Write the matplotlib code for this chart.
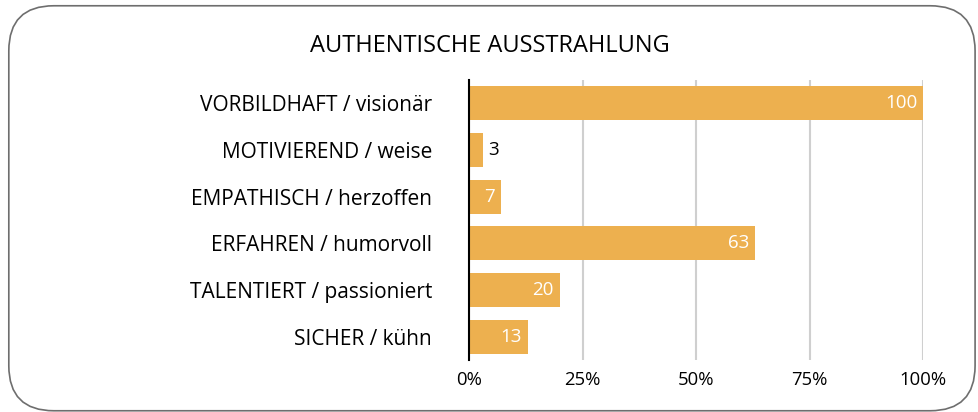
import matplotlib.pyplot as plt
from matplotlib.patches import FancyBboxPatch

plt.rcParams['font.family'] = ['Open Sans', 'DejaVu Sans']

categories = ['VORBILDHAFT / visionär', 'MOTIVIEREND / weise', 'EMPATHISCH / herzoffen',
              'ERFAHREN / humorvoll', 'TALENTIERT / passioniert', 'SICHER / kühn']
values = [100, 3, 7, 63, 20, 13]
xticks = [0, 25, 50, 75, 100]
xtick_labels = ['0%', '25%', '50%', '75%', '100%']

bar_color = '#EDB04F'

fig = plt.figure(figsize=(9.79, 4.12), dpi=100)

# rounded frame around the chart
frame = FancyBboxPatch((0.009, 0.003), 0.987, 0.983,
                       boxstyle='round,pad=0,rounding_size=0.046',
                       transform=fig.transFigure, fc='none', ec='#6e6e6e', lw=1.2,
                       mutation_aspect=979/412, zorder=-1)
fig.patches.append(frame)

ax = fig.add_axes([0.479, 0.126, 0.464, 0.68])
ax.set_facecolor('none')

y = list(range(len(categories)))
ax.barh(y, values, height=0.73, color=bar_color, zorder=2)
ax.set_ylim(len(categories) - 0.5, -0.5)
ax.set_xlim(0, 100)

for yi, v in zip(y, values):
    if v < 5:
        ax.text(v + 1.3, yi, str(v), va='center', ha='left', color='black', fontsize=13.5)
    else:
        ax.text(v - 1.3, yi, str(v), va='center', ha='right', color='white', fontsize=13.5)

ax.set_yticks(y)
ax.set_yticklabels(categories, fontsize=15)
ax.set_xticks(xticks)
ax.set_xticklabels(xtick_labels, fontsize=13.3)
ax.tick_params(length=0)
ax.tick_params(axis='y', pad=26.5)
ax.tick_params(axis='x', pad=8)

ax.grid(axis='x', color='#cfcfcf', lw=1.5, zorder=0)
for s in ['top', 'right', 'bottom']:
    ax.spines[s].set_visible(False)
ax.spines['left'].set_color('black')
ax.spines['left'].set_linewidth(1.5)
ax.spines['left'].set_zorder(3)

fig.text(0.5, 0.888, 'AUTHENTISCHE AUSSTRAHLUNG', ha='center', va='center', fontsize=17)

fig.savefig('out.png', dpi=100)
